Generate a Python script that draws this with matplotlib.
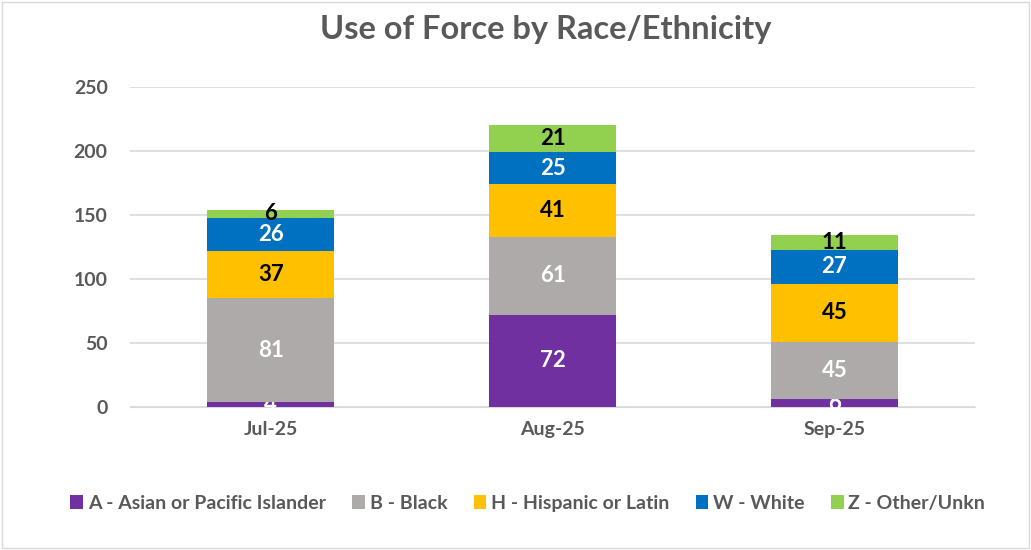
import matplotlib
matplotlib.use('Agg')
import matplotlib.pyplot as plt
import numpy as np
from matplotlib.patches import Rectangle

plt.rcParams['font.family'] = ['Lato', 'DejaVu Sans']

# Data
months = ['Jul-25', 'Aug-25', 'Sep-25']
series = ['A - Asian or Pacific Islander', 'B - Black', 'H - Hispanic or Latin',
          'W - White', 'Z - Other/Unkn']
asian = [4, 72, 6]
black = [81, 61, 45]
hispanic = [37, 41, 45]
white = [26, 25, 27]
other = [6, 21, 11]

colors = ['#7030A0', '#AEAAAA', '#FFC000', '#0070C0', '#92D050']
label_colors = ['white', 'white', 'black', 'white', 'black']
text_gray = '#595959'

fig = plt.figure(figsize=(10.31, 5.5), dpi=100)
ax = fig.add_axes([0.126, 0.26, 0.82, 0.582])

# light border around the whole chart
fig.patches.append(Rectangle((0.002, 0.003), 0.996, 0.994, transform=fig.transFigure,
                             fill=False, edgecolor='#D9D9D9', linewidth=1))

x = np.arange(len(months))
bottom = np.zeros(len(months))
for vals, name, col, lc in zip([asian, black, hispanic, white, other], series, colors, label_colors):
    bars = ax.bar(x, vals, 0.45, bottom=bottom, color=col, label=name, zorder=3)
    ax.bar_label(bars, labels=[str(v) for v in vals], label_type='center',
                 color=lc, fontsize=16, fontweight='bold')
    bottom += np.array(vals)

ax.set_xlim(-0.5, 2.5)
ax.set_ylim(0, 250)
ax.set_yticks(range(0, 251, 50))
ax.set_xticks(x)
ax.set_xticklabels(months)
ax.yaxis.grid(True, color='#D9D9D9', linewidth=1.2, zorder=0)
for s in ax.spines.values():
    s.set_visible(False)
ax.spines['bottom'].set_visible(True)
ax.spines['bottom'].set_color('#D9D9D9')
ax.tick_params(length=0, labelsize=14, labelcolor=text_gray, pad=10)
ax.tick_params(axis='y', pad=16)
for lab in ax.get_xticklabels() + ax.get_yticklabels():
    lab.set_fontweight('bold')

fig.text(0.529, 0.947, 'Use of Force by Race/Ethnicity', ha='center', va='center',
         fontsize=23.5, fontweight='bold', color=text_gray)

leg = fig.legend(loc='center', bbox_to_anchor=(0.512, 0.085), ncol=5, frameon=False,
                 handlelength=0.65, handleheight=0.75, handletextpad=0.25, columnspacing=1.35,
                 prop={'size': 14, 'weight': 'bold'})
for t in leg.get_texts():
    t.set_color(text_gray)

plt.savefig('out.png', dpi=100)
